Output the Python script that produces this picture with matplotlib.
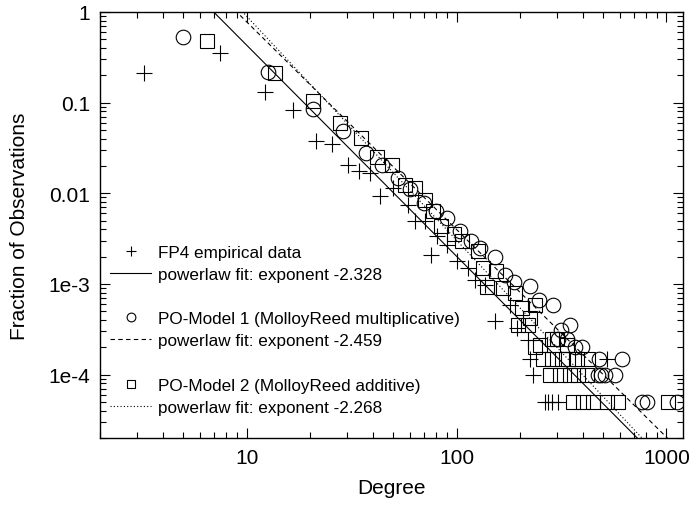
import numpy as np
import matplotlib
matplotlib.use('Agg')
import matplotlib.pyplot as plt
from matplotlib.ticker import FixedLocator, LogLocator, NullFormatter

plt.rcParams['font.family'] = ['Liberation Sans', 'DejaVu Sans']

# FP4 empirical data (+)
fp4_deg = [3.24, 7.5, 12.2, 16.7, 21.3, 25.6, 30.3, 34.3, 38.9, 43.4, 50, 58.4, 63.7, 71,
           75.5, 81, 90.5, 101, 113, 123, 137, 153, 180, 195, 219, 225, 232, 265, 274,
           284, 305, 523]
fp4_frac = [0.21, 0.355, 0.132, 0.082, 0.038, 0.035, 0.0203, 0.0178, 0.0166, 0.0093, 0.0114,
            0.0074, 0.0050, 0.0050, 0.0021, 0.0034, 0.0027, 0.0018, 0.0015, 0.0011, 0.00097,
            0.00039, 0.00059, 0.00033, 0.00024, 0.00015, 0.0001, 5e-5, 5e-5, 5e-5, 5e-5, 1.5e-4]

# PO-Model 1 (circles)
m1_deg = [5.0, 12.6, 20.6, 28.9, 36.9, 44.3, 52.4, 60, 69.7, 80, 90.5, 104, 117, 130, 153,
          171, 187, 225, 246, 289, 305, 313, 335, 346, 367, 398, 470, 475, 490, 510, 570,
          617, 768, 810, 1120]
m1_frac = [0.53, 0.219, 0.086, 0.049, 0.0276, 0.0203, 0.0146, 0.0112, 0.0078, 0.0064, 0.0054,
           0.0038, 0.0030, 0.0025, 0.0020, 0.00126, 0.00106, 0.00096, 0.00067, 0.00058,
           0.00025, 0.00031, 0.00025, 0.00035, 0.0002, 0.0002, 0.0001, 0.00015, 0.0001,
           0.0001, 0.0001, 0.00015, 5e-5, 5e-5, 5e-5]

# PO-Model 2 (squares)
m2_deg = [6.5, 13.6, 20.6, 27.7, 34.9, 42, 49, 56.6, 63.7, 70.4, 77.6, 84, 97.6, 106, 126,
          133, 140, 155, 167, 190, 197, 206, 219, 225, 237, 237, 250, 257, 280, 284, 284,
          300, 312, 318, 336, 340, 348, 360, 376, 380, 400, 420, 424, 445, 523, 590, 1013]
m2_frac = [0.48, 0.214, 0.105, 0.060, 0.041, 0.0254, 0.0203, 0.0122, 0.0114, 0.0084, 0.0063,
           0.0044, 0.0036, 0.0030, 0.0023, 0.0015, 0.00093, 0.0014, 0.00090, 0.00079, 0.00035,
           0.00054, 0.00035, 0.00042, 0.00059, 0.0002, 0.00021, 0.00015, 0.0001, 0.00015,
           0.00025, 0.00025, 0.0001, 0.00015, 0.00021, 0.00015, 0.0001, 5e-5, 0.00015, 0.0001,
           5e-5, 0.0001, 0.00015, 5e-5, 5e-5, 5e-5, 5e-5]

# powerlaw fit lines as drawn: degree where fit = 1, slope
fit_k1 = [6.96, 8.96, 9.57]
fit_slope = [2.328, 2.29, 2.47]
fit_labels = ['powerlaw fit: exponent -2.328', 'powerlaw fit: exponent -2.459',
              'powerlaw fit: exponent -2.268']

ytick_vals = [1, 0.1, 0.01, 1e-3, 1e-4]
ytick_labels = ['1', '0.1', '0.01', '1e-3', '1e-4']
xtick_vals = [10, 100, 1000]
xtick_labels = ['10', '100', '1000']

fig = plt.figure(figsize=(6.9, 5.06), dpi=100)
ax = fig.add_axes([0.1449, 0.1324, 0.845, 0.842])

mk = dict(linestyle='none', markerfacecolor='none', markeredgecolor='black', markeredgewidth=0.8)
h1, = ax.plot(fp4_deg, fp4_frac, marker='+', markersize=11, color='black',
              linestyle='none', markeredgewidth=0.8, label='FP4 empirical data')
h2, = ax.plot(m1_deg, m1_frac, marker='o', markersize=10.5, label='PO-Model 1 (MolloyReed multiplicative)', **mk)
h3, = ax.plot(m2_deg, m2_frac, marker='s', markersize=10, label='PO-Model 2 (MolloyReed additive)', **mk)

xx = np.geomspace(2, 1200, 200)
styles = ['-', (0, (4, 3)), (0, (1, 2))]
fit_handles = []
for k1, s, ls, lab in zip(fit_k1, fit_slope, styles, fit_labels):
    ln, = ax.plot(xx, (xx / k1) ** (-s), color='black', linewidth=0.8, linestyle=ls, label=lab)
    fit_handles.append(ln)

ax.set_xscale('log')
ax.set_yscale('log')
ax.set_xlim(2, 1200)
ax.set_ylim(2e-5, 1)

ax.yaxis.set_major_locator(FixedLocator(ytick_vals))
ax.set_yticklabels(ytick_labels)
ax.xaxis.set_major_locator(FixedLocator(xtick_vals))
ax.set_xticklabels(xtick_labels)
ax.xaxis.set_minor_locator(LogLocator(base=10, subs=np.arange(2, 10), numticks=20))
ax.yaxis.set_minor_locator(LogLocator(base=10, subs=np.arange(2, 10), numticks=20))
ax.xaxis.set_minor_formatter(NullFormatter())
ax.yaxis.set_minor_formatter(NullFormatter())

ax.tick_params(which='both', direction='in', top=True, right=True, width=0.8, labelsize=15)
ax.tick_params(which='major', length=7, pad=7)
ax.tick_params(which='minor', length=4)
for sp in ax.spines.values():
    sp.set_linewidth(1.0)

ax.set_xlabel('Degree', fontsize=15, labelpad=8)
ax.set_ylabel('Fraction of Observations', fontsize=15, labelpad=14)

blank, = ax.plot([], [], linestyle='none')
handles = [h1, fit_handles[0], blank, h2, fit_handles[1], blank, h3, fit_handles[2]]
labels = ['FP4 empirical data', fit_labels[0], '', 'PO-Model 1 (MolloyReed multiplicative)',
          fit_labels[1], '', 'PO-Model 2 (MolloyReed additive)', fit_labels[2]]
ax.legend(handles, labels, loc='lower left', bbox_to_anchor=(0.0, 0.03), frameon=False,
          fontsize=12.3, markerscale=0.6, handlelength=2.4, handletextpad=0.4,
          labelspacing=0.42, borderpad=0.3, borderaxespad=0.3)

plt.savefig('out.png', dpi=100)
